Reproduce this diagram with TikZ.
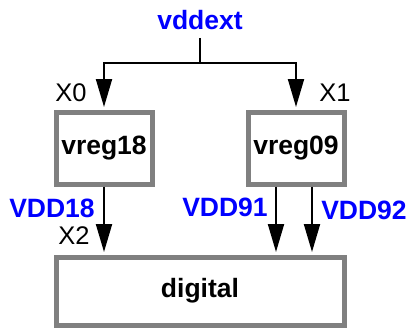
\documentclass[tikz,border=0pt]{standalone}
\usepackage{fontspec}
\setmainfont{Liberation Sans}
\usepackage{xcolor}
\usetikzlibrary{arrows.meta,positioning,calc}
\definecolor{pwrblue}{HTML}{0000FF}
\definecolor{boxgray}{HTML}{808080}

\begin{document}
\begin{tikzpicture}[x=1pt, y=1pt,
    block/.style={draw=boxgray, line width=5pt, font=\fontsize{26.5}{30}\selectfont\bfseries, align=center},
    supply/.style={font=\fontsize{26.5}{30}\selectfont\bfseries, text=pwrblue, inner sep=0pt},
    inst/.style={font=\fontsize{25.5}{28}\selectfont, inner sep=0pt},
    wire/.style={line width=2pt, black},
    arrow/.style={wire, -{Triangle[length=28pt, width=16pt]}, shorten >=2.5pt}
  ]
    \useasboundingbox (0,0) rectangle (409,330);

    \node[supply] (vddext) at (200,310) {vddext};
    \node[block, minimum width=96pt, minimum height=72pt] (vreg18) at (104,182) {vreg18};
    \node[block, minimum width=96pt, minimum height=72pt] (vreg09) at (296,182) {vreg09};
    \node[block, minimum width=288pt, minimum height=68pt] (digital) at (200,39) {digital};

    \coordinate (split) at (200,267);
    \coordinate (v91) at ([xshift=-20pt]vreg09.south);
    \coordinate (v92) at ([xshift=16pt]vreg09.south);

    \draw[wire] (vddext.south) ++(0,-8) -- (split);
    \draw[arrow] (split) -| (vreg18.north);
    \draw[arrow] (split) -| (vreg09.north);
    \draw[arrow] (vreg18.south) -- (vreg18.south |- digital.north);
    \draw[arrow] (v91) -- (v91 |- digital.north);
    \draw[arrow] (v92) -- (v92 |- digital.north);

    \node[inst] (x0) at (71,237) {X0};
    \node[inst] (x1) at (335,237) {X1};
    \node[inst] (x2) at (74,94) {X2};
    \node[supply] (vdd18) at (52,122) {VDD18};
    \node[supply] (vdd91) at (225,123) {VDD91};
    \node[supply] (vdd92) at (364,120) {VDD92};
  \end{tikzpicture}
\end{document}
